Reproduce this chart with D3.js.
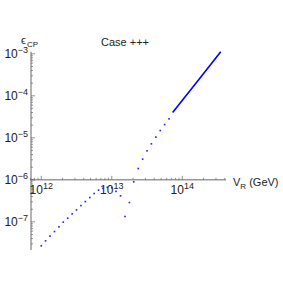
<!DOCTYPE html>
<html>
<head>
<meta charset="utf-8">
<script src="https://cdn.jsdelivr.net/npm/d3@7"></script>
<style>
  body { margin: 0; background: #fff; }
  text { font-family: "Liberation Sans", Arial, sans-serif; fill: #222; }
</style>
</head>
<body>
<div id="vis"></div>
<script>
// scattered points (V_R in GeV, epsilon_CP)
const vRDots = [1.00e12, 1.15e12, 1.33e12, 1.54e12, 1.78e12, 2.05e12, 2.37e12, 2.74e12,
  3.16e12, 3.65e12, 4.22e12, 4.87e12, 5.62e12, 6.49e12, 7.50e12, 8.66e12,
  1.00e13, 1.15e13, 1.33e13, 1.54e13, 1.78e13, 2.05e13, 2.37e13, 2.74e13,
  3.16e13, 3.65e13, 4.22e13, 4.87e13, 5.62e13, 6.49e13];
const epsDots = [2.69e-8, 3.53e-8, 4.57e-8, 5.87e-8, 7.60e-8, 9.84e-8, 1.22e-7, 1.55e-7,
  1.93e-7, 2.44e-7, 3.04e-7, 3.79e-7, 4.72e-7, 5.69e-7, 6.28e-7, 6.62e-7,
  6.46e-7, 5.32e-7, 4.16e-7, 1.34e-7, 2.88e-7, 8.95e-7, 1.86e-6, 3.11e-6,
  4.90e-6, 7.19e-6, 1.04e-5, 1.49e-5, 2.07e-5, 2.83e-5];
// dense part that shows up as a solid line
const vRLine = [7.3e13, 1.6e14, 3.51e14];
const epsLine = [4.0e-5, 2.11e-4, 1.12e-3];

const xTickExp = [12, 13, 14];
const yTickExp = [-3, -4, -5, -6, -7];

const W = 283, H = 283;
const svg = d3.select("#vis").append("svg").attr("width", W).attr("height", H);

const x = d3.scaleLog().domain([Math.pow(10, 11.84), Math.pow(10, 14.62)]).range([30, 226]);
const y = d3.scaleLog().domain([Math.pow(10, -7.67), Math.pow(10, -2.95)]).range([250, 51.7]);

const axisColor = "#666";
const x0 = x.range()[0];
const y0 = y(1e-6);

// axes lines
svg.append("line").attr("x1", x0).attr("x2", x.range()[1]).attr("y1", y0).attr("y2", y0)
  .attr("stroke", axisColor).attr("stroke-width", 1);
svg.append("line").attr("x1", x0 + 1).attr("x2", x0 + 1).attr("y1", y.range()[0]).attr("y2", y.range()[1])
  .attr("stroke", axisColor).attr("stroke-width", 1);

// x ticks (pointing up)
const xd = x.domain();
for (let e = 11; e <= 14; e++) {
  for (let m = 1; m <= 9; m++) {
    const v = m * Math.pow(10, e);
    if (v < xd[0] || v > xd[1]) continue;
    const len = m === 1 ? 4 : 2;
    svg.append("line").attr("x1", x(v)).attr("x2", x(v)).attr("y1", y0).attr("y2", y0 - len)
      .attr("stroke", axisColor).attr("stroke-width", 0.7);
  }
}
// y ticks (pointing right)
const yd = y.domain();
for (let e = -8; e <= -3; e++) {
  for (let m = 1; m <= 9; m++) {
    const v = m * Math.pow(10, e);
    if (v < yd[0] || v > yd[1]) continue;
    const len = m === 1 ? 4 : 2;
    svg.append("line").attr("x1", x0 + 1).attr("x2", x0 + 1 + len).attr("y1", y(v)).attr("y2", y(v))
      .attr("stroke", axisColor).attr("stroke-width", 0.7);
  }
}

// x tick labels
xTickExp.forEach(function(e) {
  const t = svg.append("text").attr("x", x(Math.pow(10, e))).attr("y", y0 + 14)
    .attr("text-anchor", "middle").attr("font-size", 12);
  t.append("tspan").text("10");
  t.append("tspan").attr("font-size", 9).attr("dy", -5).text(e);
});
// y tick labels
yTickExp.forEach(function(e) {
  const t = svg.append("text").attr("x", 28).attr("y", y(Math.pow(10, e)) + 4)
    .attr("text-anchor", "end").attr("font-size", 12);
  t.append("tspan").text("10");
  t.append("tspan").attr("font-size", 9).attr("dy", -5).text("\u2212" + Math.abs(e));
});

// data: dots
svg.selectAll("rect.dot").data(vRDots).enter().append("rect")
  .attr("class", "dot")
  .attr("x", function(d) { return x(d) - 0.8; })
  .attr("y", function(d, i) { return y(epsDots[i]) - 0.8; })
  .attr("width", 1.6).attr("height", 1.6)
  .attr("fill", "#1a1aff");

// data: dense line
const line = d3.line().x(function(d) { return x(d); }).y(function(d, i) { return y(epsLine[i]); });
svg.append("path").datum(vRLine).attr("d", line)
  .attr("fill", "none").attr("stroke", "#0000ff").attr("stroke-width", 1.6);

// labels
svg.append("text").attr("x", 125).attr("y", 46).attr("text-anchor", "middle")
  .attr("font-size", 11).text("Case +++");

const eps = svg.append("text").attr("x", 21).attr("y", 44).attr("font-size", 11);
eps.append("tspan").text("\u03F5");
eps.append("tspan").attr("font-size", 8).attr("dy", 3).attr("dx", 1).text("CP");

const vr = svg.append("text").attr("x", 233).attr("y", 186).attr("font-size", 11);
vr.append("tspan").text("V");
vr.append("tspan").attr("font-size", 8).attr("dy", 3).text("R");
vr.append("tspan").attr("dy", -3).text(" (GeV)");
</script>
</body>
</html>
